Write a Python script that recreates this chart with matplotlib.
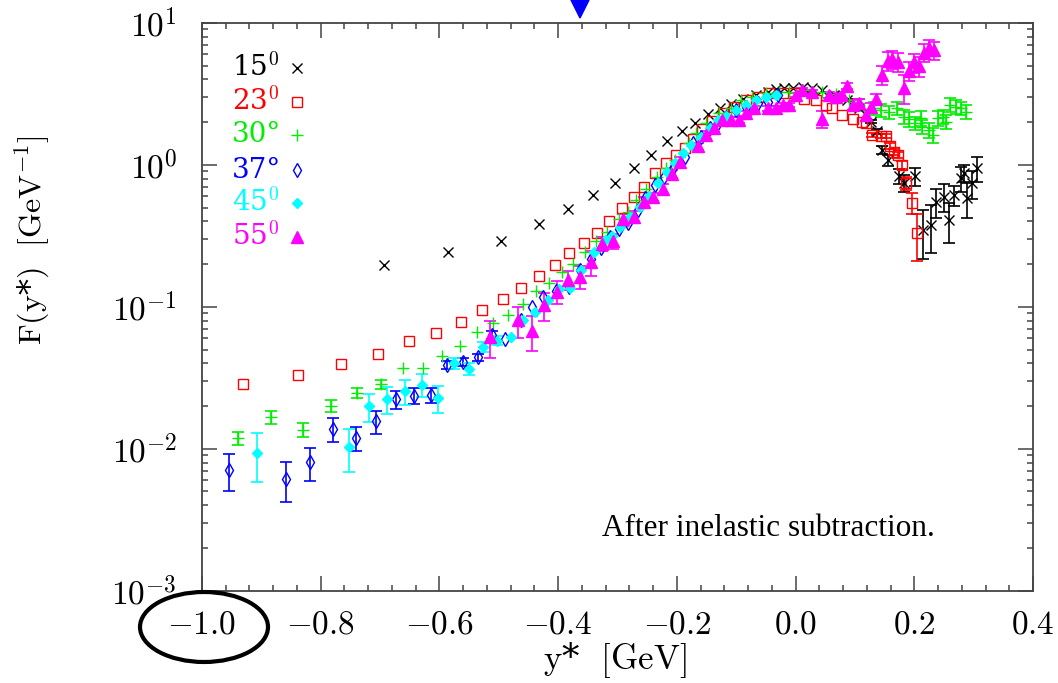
import numpy as np
import matplotlib
matplotlib.use("Agg")
import matplotlib.pyplot as plt
from matplotlib.ticker import LogLocator, MultipleLocator, NullFormatter, FixedLocator
from matplotlib.patches import Ellipse, Polygon

plt.rcParams['mathtext.fontset'] = 'cm'

# ---- data ----
# 15 deg
x15 = [-0.694, -0.586, -0.497, -0.433, -0.383, -0.342, -0.304, -0.272, -0.243, -0.217,
       -0.192, -0.169, -0.148, -0.127, -0.109, -0.089, -0.067, -0.047, -0.033, -0.019,
       -0.005, 0.012, 0.028, 0.045, 0.065, 0.087, 0.107, 0.127, 0.138, 0.146,
       0.155, 0.174, 0.183, 0.202, 0.214, 0.228, 0.236, 0.250, 0.258, 0.267,
       0.278, 0.284, 0.289, 0.298, 0.306]
y15 = [0.198, 0.245, 0.293, 0.382, 0.488, 0.615, 0.741, 0.957, 1.18, 1.48,
       1.73, 1.99, 2.27, 2.51, 2.69, 2.90, 3.11, 3.28, 3.41, 3.47,
       3.50, 3.52, 3.47, 3.37, 3.11, 2.87, 2.51, 2.02, 1.72, 1.28,
       1.08, 0.83, 0.743, 0.83, 0.348, 0.378, 0.552, 0.599, 0.410, 0.615,
       0.807, 0.875, 0.582, 0.743, 0.948]
e15 = [0, 0, 0, 0, 0, 0, 0, 0, 0, 0,
       0, 0, 0, 0, 0, 0, 0, 0, 0, 0,
       0, 0, 0, 0, 0.05, 0.05, 0.06, 0.06, 0.08, 0.08,
       0.1, 0.1, 0.1, 0.12, 0.13, 0.14, 0.13, 0.13, 0.13, 0.1,
       0.16, 0.12, 0.16, 0.17, 0.19]

# 23 deg
x23 = [-0.931, -0.839, -0.765, -0.704, -0.652, -0.606, -0.564, -0.528, -0.493, -0.462,
       -0.433, -0.406, -0.381, -0.357, -0.335, -0.314, -0.292, -0.273, -0.255, -0.236,
       -0.219, -0.202, -0.187, -0.172, -0.157, -0.140, -0.123, -0.103, -0.084, -0.064,
       -0.044, -0.022, -0.002, 0.014, 0.034, 0.051, 0.062, 0.079, 0.096, 0.112,
       0.118, 0.129, 0.144, 0.152, 0.159, 0.166, 0.173, 0.179, 0.186, 0.196, 0.205]
y23 = [0.0287, 0.0330, 0.0397, 0.0467, 0.0570, 0.0653, 0.0788, 0.0952, 0.114, 0.135,
       0.165, 0.198, 0.239, 0.284, 0.333, 0.400, 0.500, 0.598, 0.697, 0.875,
       1.03, 1.18, 1.31, 1.52, 1.78, 2.04, 2.31, 2.58, 2.87, 3.03,
       3.20, 3.20, 3.20, 2.90, 2.87, 2.65, 2.51, 2.25, 2.10, 2.02,
       1.99, 1.63, 1.60, 1.60, 1.36, 1.24, 1.18, 1.00, 0.743, 0.542, 0.330]
e23 = [0, 0, 0, 0, 0, 0, 0, 0, 0, 0,
       0, 0, 0, 0, 0, 0, 0, 0, 0, 0,
       0, 0, 0, 0, 0, 0, 0, 0, 0, 0,
       0, 0, 0, 0, 0, 0, 0, 0, 0, 0,
       0, 0.06, 0.06, 0.06, 0.06, 0.06, 0.06, 0.07, 0.08, 0.09, 0.12]

# 30 deg
x30 = [-0.940, -0.883, -0.830, -0.782, -0.739, -0.699, -0.662, -0.627, -0.596, -0.565,
       -0.537, -0.510, -0.485, -0.460, -0.437, -0.416, -0.394, -0.375, -0.354, -0.336,
       -0.317, -0.298, -0.282, -0.268, -0.252, -0.234, -0.218, -0.203, -0.179, -0.168,
       -0.151, -0.129, -0.109, -0.092, -0.073, -0.050, -0.028, -0.011, 0.012, 0.045,
       0.068, 0.090, 0.107, 0.132, 0.144, 0.157, 0.171, 0.183, 0.191, 0.201,
       0.211, 0.213, 0.225, 0.232, 0.240, 0.248, 0.253, 0.261, 0.270, 0.278, 0.287]
y30 = [0.0119, 0.0167, 0.0136, 0.0201, 0.0247, 0.0284, 0.0370, 0.0372, 0.0452, 0.0531,
       0.0664, 0.0768, 0.0879, 0.105, 0.130, 0.148, 0.176, 0.202, 0.243, 0.292,
       0.337, 0.417, 0.469, 0.567, 0.679, 0.816, 0.948, 1.09, 1.42, 1.67,
       1.99, 2.31, 2.51, 2.87, 3.03, 3.20, 3.28, 3.28, 3.37, 3.28,
       3.16, 2.87, 2.65, 2.51, 2.44, 2.37, 2.51, 2.19, 2.10, 1.97,
       2.13, 1.86, 1.76, 1.63, 2.13, 2.19, 2.02, 2.65, 2.58, 2.51, 2.37]
e30 = [0.0012, 0.0017, 0.0015, 0.0019, 0.0020, 0.0020, 0, 0, 0, 0,
       0, 0, 0, 0, 0, 0, 0, 0, 0, 0,
       0, 0, 0, 0, 0, 0, 0, 0, 0, 0,
       0, 0, 0, 0, 0, 0, 0, 0, 0, 0,
       0, 0, 0.25, 0.25, 0.25, 0.25, 0.25, 0.25, 0.25, 0.22,
       0.25, 0.22, 0.2, 0.2, 0.25, 0.25, 0.22, 0.3, 0.3, 0.28, 0.28]

# 37 deg
x37 = [-0.954, -0.859, -0.818, -0.779, -0.741, -0.707, -0.674, -0.643, -0.615, -0.587,
       -0.560, -0.535, -0.511, -0.489, -0.462, -0.444, -0.426, -0.403, -0.382, -0.364,
       -0.345, -0.328, -0.312, -0.297, -0.283, -0.266, -0.253, -0.236, -0.222, -0.206,
       -0.187, -0.173, -0.159, -0.145, -0.131, -0.117, -0.100, -0.084, -0.064, -0.047, -0.030]
y37 = [0.00711, 0.00615, 0.00805, 0.0138, 0.0119, 0.0156, 0.0224, 0.0236, 0.0240, 0.0391,
       0.0411, 0.0440, 0.0636, 0.0596, 0.0802, 0.100, 0.118, 0.130, 0.139, 0.182,
       0.218, 0.259, 0.313, 0.356, 0.392, 0.482, 0.589, 0.723, 0.817, 0.959,
       1.14, 1.42, 1.58, 1.81, 1.97, 2.19, 2.44, 2.58, 2.72, 2.79, 3.11]
e37 = [0.0021, 0.0019, 0.0021, 0.0027, 0.0023, 0.0028, 0.0033, 0.0030, 0.0030, 0.0025,
       0.0025, 0.0025, 0.004, 0, 0, 0, 0, 0, 0, 0,
       0, 0, 0, 0, 0, 0, 0, 0, 0, 0,
       0, 0, 0, 0, 0, 0, 0, 0, 0, 0, 0]

# 45 deg
x45 = [-0.908, -0.753, -0.719, -0.688, -0.658, -0.630, -0.602, -0.576, -0.550, -0.526,
       -0.503, -0.480, -0.459, -0.439, -0.417, -0.398, -0.380, -0.362, -0.339, -0.321,
       -0.310, -0.295, -0.279, -0.262, -0.247, -0.231, -0.216, -0.203, -0.190, -0.176,
       -0.159, -0.145, -0.131, -0.117, -0.100, -0.084, -0.067, -0.050, -0.033]
y45 = [0.00933, 0.0103, 0.0199, 0.0224, 0.0254, 0.0283, 0.0228, 0.0399, 0.0367, 0.0522,
       0.0579, 0.0612, 0.0810, 0.0927, 0.112, 0.134, 0.135, 0.182, 0.242, 0.296,
       0.316, 0.367, 0.432, 0.508, 0.607, 0.743, 0.885, 1.03, 1.21, 1.38,
       1.58, 1.81, 2.07, 2.21, 2.44, 2.65, 2.87, 3.03, 3.11]
e45 = [0.0035, 0.0034, 0.0044, 0.0048, 0.0050, 0.0052, 0.0048, 0.0035, 0.0035, 0.004,
       0.004, 0, 0, 0, 0, 0, 0, 0, 0, 0,
       0, 0, 0, 0, 0, 0, 0, 0, 0, 0,
       0, 0, 0, 0, 0, 0, 0, 0, 0]

# 55 deg
x55 = [-0.514, -0.468, -0.444, -0.424, -0.402, -0.383, -0.364, -0.344, -0.326, -0.308,
       -0.290, -0.273, -0.256, -0.241, -0.224, -0.209, -0.194, -0.165, -0.151, -0.137,
       -0.124, -0.109, -0.095, -0.084, -0.070, -0.047, -0.033, -0.022, -0.011, 0.000,
       0.011, 0.028, 0.045, 0.056, 0.068, 0.079, 0.087, 0.096, 0.107, 0.118,
       0.127, 0.136, 0.146, 0.155, 0.163, 0.173, 0.183, 0.191, 0.200, 0.208,
       0.217, 0.225, 0.233]
y55 = [0.0618, 0.0802, 0.0678, 0.103, 0.128, 0.155, 0.163, 0.206, 0.279, 0.290,
       0.413, 0.431, 0.552, 0.599, 0.678, 0.865, 1.05, 1.35, 1.63, 1.81,
       2.07, 2.07, 2.07, 2.31, 2.51, 2.51, 2.51, 2.65, 2.65, 3.11,
       3.37, 3.28, 2.11, 3.11, 3.03, 3.11, 3.60, 2.65, 2.72, 2.25,
       2.55, 2.90, 4.31, 5.40, 5.57, 5.33, 3.47, 4.58, 5.27, 4.94,
       6.19, 6.71, 6.41]
e55 = [0.018, 0.020, 0.019, 0.023, 0.023, 0.024, 0.030, 0.040, 0.030, 0.035,
       0.040, 0.040, 0.040, 0.040, 0.050, 0.060, 0.08, 0.08, 0.1, 0.1,
       0.1, 0.1, 0.1, 0.1, 0.1, 0.1, 0.1, 0.1, 0.1, 0.1,
       0.1, 0.1, 0.3, 0.15, 0.15, 0.15, 0.2, 0.2, 0.2, 0.2,
       0.2, 0.25, 0.65, 0.8, 0.8, 0.8, 0.8, 0.7, 0.8, 0.8,
       0.9, 0.9, 0.9]

angle_labels = [r'15$^{\mathrm{0}}$', r'23$^{\mathrm{0}}$', r'30°', r'37°',
                r'45$^{\mathrm{0}}$', r'55$^{\mathrm{0}}$']
xtick_vals = [-1.0, -0.8, -0.6, -0.4, -0.2, 0.0, 0.2, 0.4]
xtick_text = [r'$-1.0$', r'$-0.8$', r'$-0.6$', r'$-0.4$', r'$-0.2$', r'$0.0$', r'$0.2$', r'$0.4$']
ytick_vals = [1e-3, 1e-2, 1e-1, 1e0, 1e1]
ytick_text = [r'$10^{-3}$', r'$10^{-2}$', r'$10^{-1}$', r'$10^{0}$', r'$10^{1}$']

series = [
    (x15, y15, e15, 'x', 'black', 'black', 7.0),
    (x23, y23, e23, 's', 'none', '#ff0000', 7.5),
    (x30, y30, e30, '+', '#00ee00', '#00ee00', 8.0),
    (x37, y37, e37, 'd', 'none', '#0000ff', 7.0),
    (x45, y45, e45, 'D', '#00ffff', '#00ffff', 5.5),
    (x55, y55, e55, '^', '#ff00ff', '#ff00ff', 8.5),
]

W, H = 1058, 683
fig = plt.figure(figsize=(W / 100, H / 100), dpi=100)
L, R, T, B = 202, 1033, 23, 590.7
ax = fig.add_axes([L / W, 1 - B / H, (R - L) / W, (B - T) / H])

for xs, ys, es, mk, fc, ec, ms in series:
    xs = np.array(xs); ys = np.array(ys); es = np.array(es)
    m = es > 0
    ax.errorbar(xs[m], ys[m], yerr=es[m], fmt='none', ecolor=ec, elinewidth=1.2,
                capsize=4, capthick=1.2, zorder=2)
    ax.plot(xs, ys, linestyle='none', marker=mk, markersize=ms, markerfacecolor=fc,
            markeredgecolor=ec, markeredgewidth=1.0, zorder=3)

ax.set_yscale('log')
ax.set_xlim(-1.0, 0.4)
ax.set_ylim(1e-3, 1e1)

ax.xaxis.set_major_locator(FixedLocator(xtick_vals))
ax.set_xticklabels(xtick_text)
ax.xaxis.set_minor_locator(MultipleLocator(0.04))
ax.yaxis.set_major_locator(FixedLocator(ytick_vals))
ax.set_yticklabels(ytick_text)
ax.yaxis.set_minor_locator(LogLocator(base=10, subs=np.arange(2, 10)))
ax.yaxis.set_minor_formatter(NullFormatter())

spine_col = '#444444'
for s in ax.spines.values():
    s.set_color(spine_col)
    s.set_linewidth(1.3)
ax.tick_params(which='both', direction='in', top=True, right=True, color=spine_col,
               width=1.1, labelsize=24)
ax.tick_params(which='major', length=11)
ax.tick_params(which='minor', length=4.5)
ax.tick_params(axis='x', which='major', pad=12)
ax.tick_params(axis='y', which='major', pad=18)

fig.text(615 / W, 1 - 660 / H, r'$\mathrm{y}$*  $\mathrm{[GeV]}$', fontsize=25,
         ha='center', va='center', family='DejaVu Serif')
fig.text(32 / W, 1 - 240 / H, r'$\mathrm{F(y}$*$\mathrm{)}$  $\mathrm{[GeV^{-1}]}$',
         fontsize=23, rotation=90, ha='center', va='center', family='DejaVu Serif')

# legend drawn by hand
rows = [68, 102, 135, 170, 203, 237]
for (xs, ys, es, mk, fc, ec, ms), lab, py in zip(series, angle_labels, rows):
    fig.text(232 / W, 1 - py / H, lab, fontsize=20, color=ec, ha='left', va='center',
             family='DejaVu Serif')
    ax.plot([297 / W], [1 - py / H], transform=fig.transFigure, linestyle='none',
            marker=mk, markersize=ms, markerfacecolor=fc, markeredgecolor=ec,
            markeredgewidth=1.0, clip_on=False)

fig.text(768 / W, 1 - 528 / H, 'After inelastic subtraction.', fontsize=22.5,
         family='Liberation Serif', ha='center', va='center')

# circle round the -1.0 label
ell = Ellipse((204 / W, 1 - 627 / H), 128 / W, 70 / H, transform=fig.transFigure,
              fill=False, edgecolor='black', linewidth=3)
fig.add_artist(ell)

# blue arrow head cut off at the top
arrow = Polygon([(571 / W, 1.0), (589 / W, 1.0), (580 / W, 1 - 18 / H)],
                closed=True, transform=fig.transFigure, color='#0000ff')
fig.add_artist(arrow)

fig.savefig('out.png', dpi=100)
